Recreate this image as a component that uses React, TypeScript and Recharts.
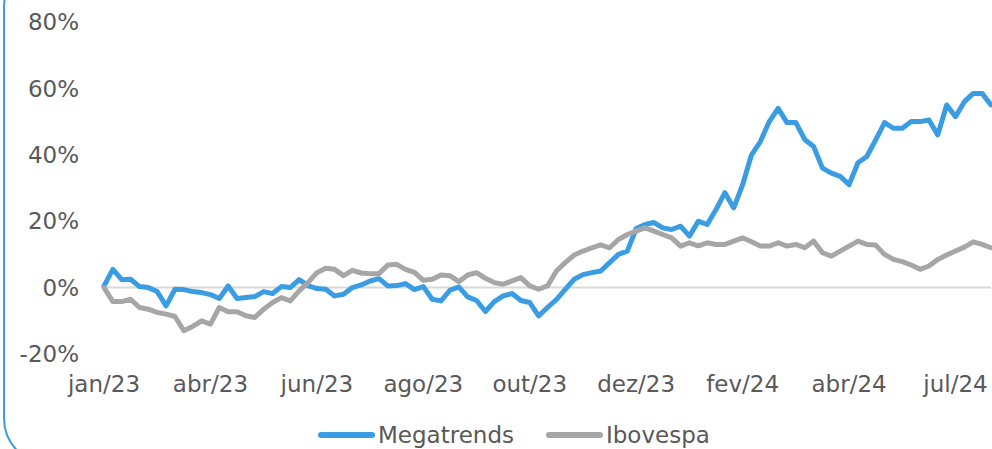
import { LineChart, Line, XAxis, YAxis, ReferenceLine, Legend } from "recharts";

// Cumulative return (%), sampled ~every 12th of a tick interval
const megatrends = [
  0.5, 5.5, 2.4, 2.5, 0.3, 0, -1.2, -5.5, -0.5, -0.6,
  -1.2, -1.5, -2.1, -3.3, 0.5, -3.3, -3.0, -2.7, -1.2, -1.8,
  0.3, 0, 2.4, 0.6, -0.3, -0.5, -2.5, -2.0, 0, 0.8,
  2.0, 2.7, 0.5, 0.6, 1.2, -0.6, 0.3, -3.5, -4.0, -0.8,
  0.2, -2.8, -3.9, -7.2, -4.2, -2.5, -1.8, -3.9, -4.5, -8.5,
  -6.0, -3.6, -0.5, 2.5, 3.9, 4.5, 5.0, 7.5, 10, 11,
  17.8, 19, 19.6, 18.0, 17.5, 18.5, 15.5, 20.0, 19, 23.5,
  28.6, 24, 31, 40, 44, 50, 54, 49.7, 49.7, 44.6,
  42.5, 36, 34.5, 33.5, 31, 37.6, 39.5, 44.5, 49.7, 48,
  48, 50, 50, 50.5, 46, 55, 51.5, 56, 58.5, 58.5,
  55,
];

const ibovespa = [
  0, -4.2, -4.2, -3.5, -6, -6.5, -7.5, -8, -8.7, -13,
  -11.7, -10, -11, -6, -7.3, -7.3, -8.5, -9, -6.5, -4.5,
  -3, -4, -1, 1.5, 4.5, 5.8, 5.5, 3.6, 5.2, 4.4,
  4.2, 4.2, 6.8, 7.0, 5.5, 4.6, 2.2, 2.5, 3.8, 3.6,
  1.8, 3.8, 4.5, 2.8, 1.5, 1.0, 2.0, 3.0, 0.5, -0.5,
  0.5, 5.0, 7.5, 9.8, 11, 12, 12.9, 12.0, 14.5, 16,
  17, 18, 17, 16, 15, 12.5, 13.5, 12.6, 13.5, 13,
  13, 14, 15, 13.8, 12.5, 12.5, 13.5, 12.5, 13, 12,
  14, 10.5, 9.5, 11, 12.5, 14, 13, 12.8, 10, 8.5,
  7.8, 6.8, 5.5, 6.5, 8.5, 9.8, 11, 12.2, 13.8, 13,
  12,
];

const monthLabels = ["jan/23", "abr/23", "jun/23", "ago/23", "out/23", "dez/23", "fev/24", "abr/24", "jul/24"];
const yTicks = [-20, 0, 20, 40, 60, 80];

const STEP = 12; // points between two month labels
const BLUE = "#3a9de3";
const GRAY = "#a6a6a6";
const TEXT = "#595959";
const FONT = "'DejaVu Sans', sans-serif";

const data = megatrends.map((v, i) => ({ i, megatrends: v, ibovespa: ibovespa[i] }));
const xTicks = monthLabels.map((_, k) => k * STEP);

function LegendContent() {
  const items = [
    { name: "Megatrends", color: BLUE },
    { name: "Ibovespa", color: GRAY },
  ];
  return (
    <div style={{ display: "flex", alignItems: "center", height: 26, paddingLeft: 318, fontFamily: FONT }}>
      {items.map((it, k) => (
        <div key={it.name} style={{ display: "flex", alignItems: "center", marginRight: k === 0 ? 32 : 0 }}>
          <span style={{ display: "inline-block", width: 57, height: 6, borderRadius: 3, background: it.color }} />
          <span style={{ marginLeft: 3, fontSize: 23, color: TEXT, lineHeight: "26px" }}>{it.name}</span>
        </div>
      ))}
    </div>
  );
}

export default function App() {
  return (
    <div
      style={{
        position: "fixed",
        left: 0,
        top: 0,
        width: 992,
        height: 449,
        overflow: "hidden",
        background: "#fff",
        fontFamily: FONT,
      }}
    >
      <div
        style={{
          position: "absolute",
          left: 3,
          top: -40,
          width: 1150,
          height: 506,
          border: `2px solid ${BLUE}`,
          borderRadius: 48,
          boxSizing: "border-box",
        }}
      />
      <div style={{ position: "absolute", left: 0, top: 0 }}>
        <LineChart width={1000} height={449} data={data} margin={{ top: 22, right: 9, left: 0, bottom: 0 }}>
          <XAxis
            type="number"
            dataKey="i"
            domain={[0, 100]}
            ticks={xTicks}
            interval={0}
            tickFormatter={(v: number) => monthLabels[Math.round(v / STEP)] ?? ""}
            axisLine={false}
            tickLine={false}
            tickSize={6}
            tickMargin={16}
            height={69}
            tick={{ fontSize: 23, fill: TEXT, fontFamily: FONT }}
          />
          <YAxis
            domain={[-20, 80]}
            ticks={yTicks}
            interval={0}
            tickFormatter={(v: number) => `${v}%`}
            axisLine={false}
            tickLine={false}
            tickSize={6}
            tickMargin={19}
            width={104}
            tick={{ fontSize: 23, fill: TEXT, fontFamily: FONT }}
          />
          <ReferenceLine y={0} stroke="#d9d9d9" strokeWidth={2} />
          <Line
            type="linear"
            dataKey="megatrends"
            name="Megatrends"
            stroke={BLUE}
            strokeWidth={5}
            strokeLinejoin="round"
            strokeLinecap="round"
            dot={false}
            isAnimationActive={false}
          />
          <Line
            type="linear"
            dataKey="ibovespa"
            name="Ibovespa"
            stroke={GRAY}
            strokeWidth={5}
            strokeLinejoin="round"
            strokeLinecap="round"
            dot={false}
            isAnimationActive={false}
          />
          <Legend
            verticalAlign="bottom"
            content={() => <LegendContent />}
            wrapperStyle={{ top: 422, left: 0, height: 26 }}
          />
        </LineChart>
      </div>
    </div>
  );
}
